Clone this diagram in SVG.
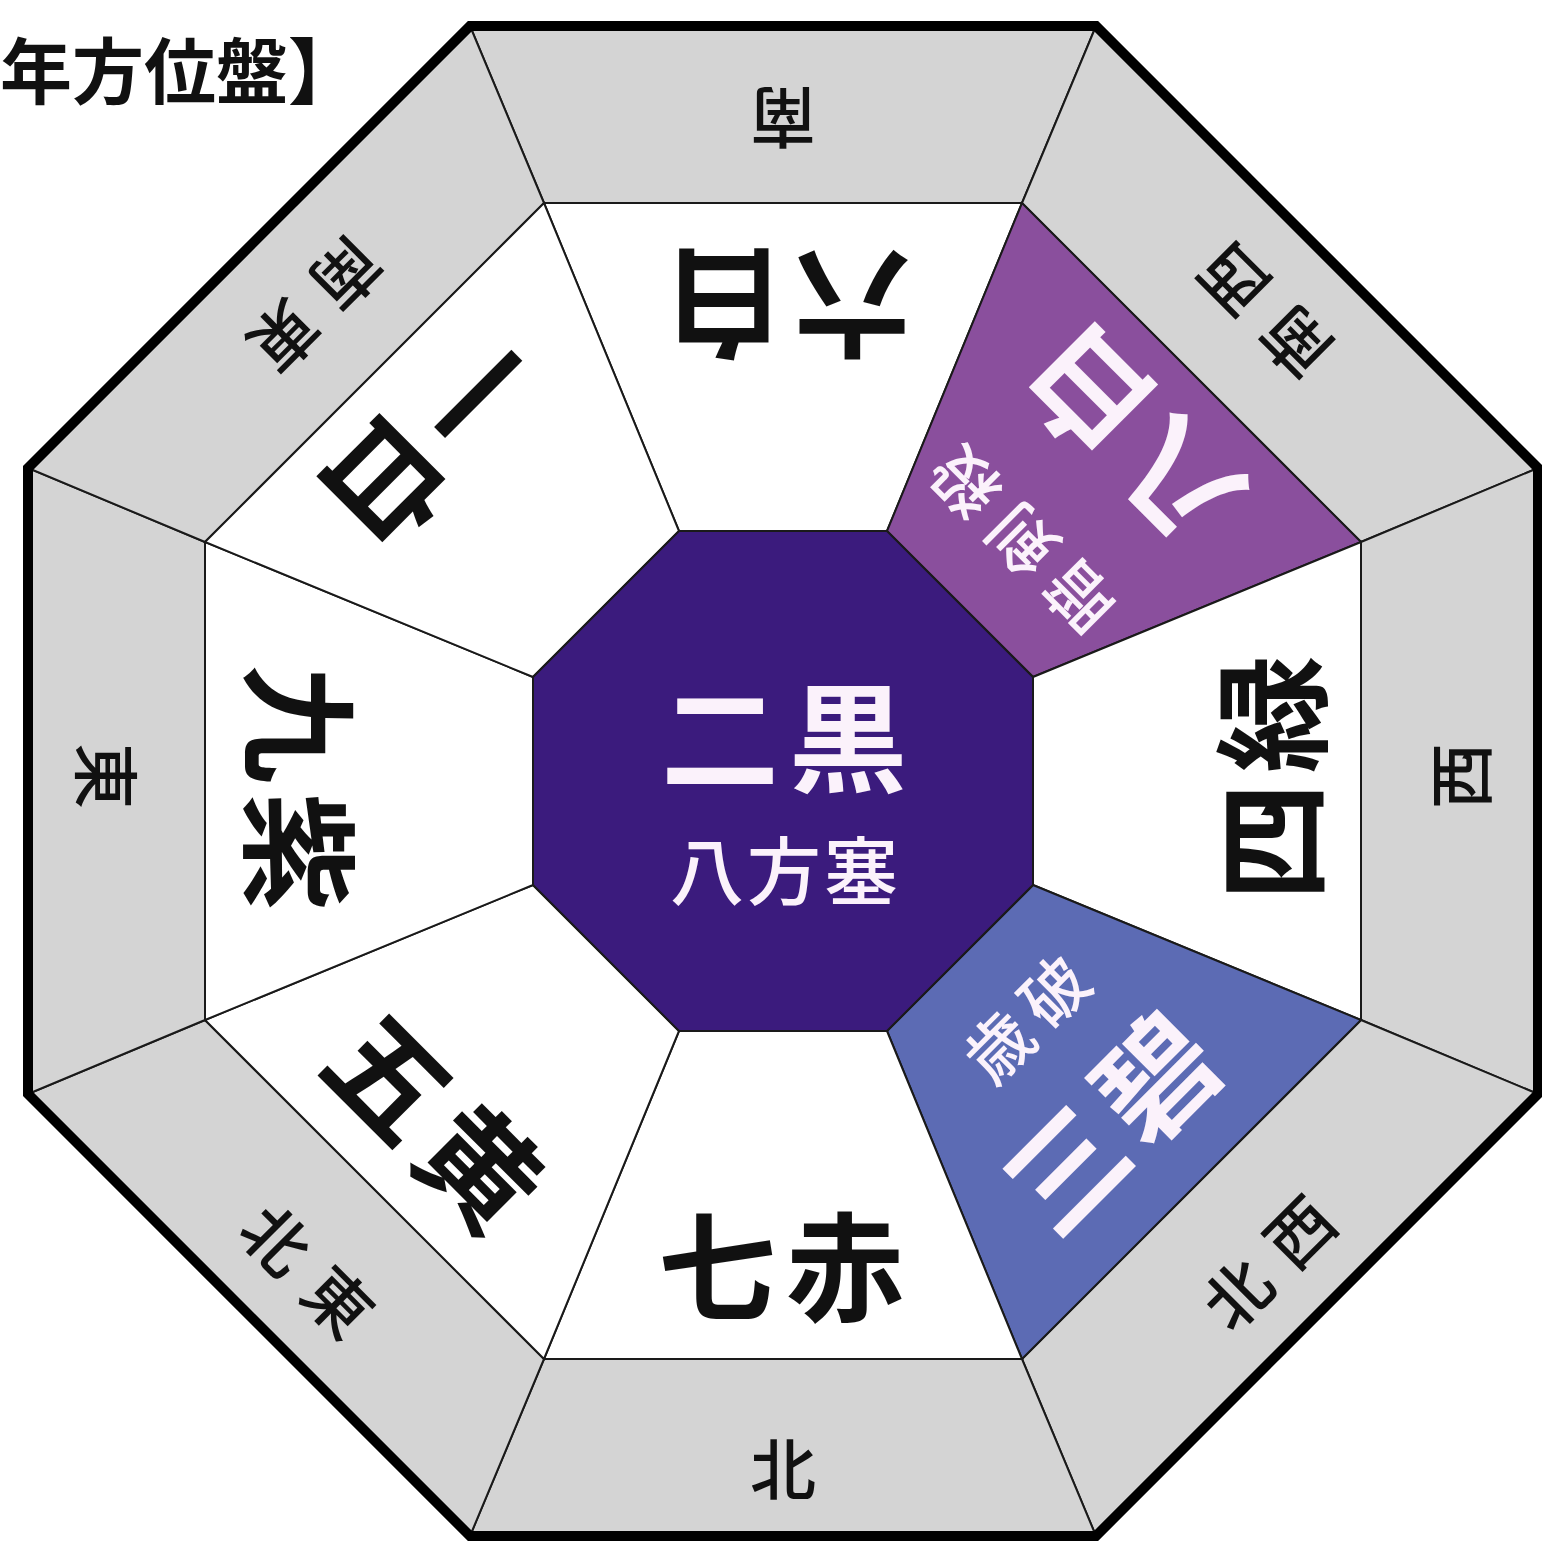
<svg xmlns="http://www.w3.org/2000/svg" width="1542" height="1541" viewBox="0 0 1542 1541">
<style>
.band{fill:#d4d4d4;stroke:#1a1a1a;stroke-width:2;stroke-linejoin:miter}
.cell{fill:#ffffff;stroke:#1a1a1a;stroke-width:2}
.purple{fill:#8a4f9d}
.blue{fill:#5c6bb4}
.dir{font-family:"Noto Sans CJK JP","Noto Sans CJK SC",sans-serif;font-size:66px;font-weight:500;fill:#111;text-anchor:middle;dominant-baseline:central}
.star{font-family:"Noto Sans CJK JP","Noto Sans CJK SC",sans-serif;font-size:118px;font-weight:700;fill:#111;text-anchor:middle;dominant-baseline:central}
.w{fill:#fbf2fb}
.tag{font-family:"Noto Sans CJK JP","Noto Sans CJK SC",sans-serif;font-size:66px;font-weight:500;fill:#fbf2fb;text-anchor:middle;dominant-baseline:central}
.title{font-family:"Noto Sans CJK JP","Noto Sans CJK SC",sans-serif;font-size:72px;font-weight:700;fill:#111;dominant-baseline:central}
</style>
<rect width="1542" height="1541" fill="#ffffff"/>
<text class="title" x="0" y="66">年方位盤】</text>

<g id="sector-south">
<polygon class="band" points="544,203 1022,203 1096,26 470,26"/>
<polygon class="cell" points="679,531 887,531 1022,203 544,203"/>
<text class="dir" transform="translate(783,122) rotate(180)" x="0" y="0">南</text>
<text class="star" transform="translate(788,310) rotate(180)" x="-64 64" y="0">六白</text>
</g>

<g id="sector-southwest">
<polygon class="band" points="1022,203 1361,542 1538,468 1096,26"/>
<polygon class="cell purple" points="887,531 1033,677 1361,542 1022,203"/>
<text class="dir" transform="translate(1262,314) rotate(-135)" x="-44 44" y="0">南西</text>
<text class="star w" transform="translate(1128,442) rotate(-135)" x="-64 64" y="0">八白</text>
<text class="tag" transform="translate(1020,543) rotate(-135)" x="-81 0 81" y="0">暗剣殺</text>
</g>

<g id="sector-west">
<polygon class="band" points="1361,542 1361,1020 1538,1094 1538,468"/>
<polygon class="cell" points="1033,677 1033,885 1361,1020 1361,542"/>
<text class="dir" transform="translate(1457,776) rotate(-90)" x="0" y="0">西</text>
<text class="star" transform="translate(1265,778) rotate(-90)" x="-64 64" y="0">四緑</text>
</g>

<g id="sector-northwest">
<polygon class="band" points="1361,1020 1022,1359 1096,1536 1538,1094"/>
<polygon class="cell blue" points="1033,885 887,1031 1022,1359 1361,1020"/>
<text class="dir" transform="translate(1266,1260) rotate(-45)" x="-44 44" y="0">北西</text>
<text class="star w" transform="translate(1106,1118) rotate(-45)" x="-64 64" y="0">三碧</text>
<text class="tag" transform="translate(1024,1016) rotate(-45)" x="-39 39" y="0">歳破</text>
</g>

<g id="sector-north">
<polygon class="band" points="1022,1359 544,1359 470,1536 1096,1536"/>
<polygon class="cell" points="887,1031 679,1031 544,1359 1022,1359"/>
<text class="dir" x="783" y="1465">北</text>
<text class="star" x="717 845" y="1260">七赤</text>
</g>

<g id="sector-northeast">
<polygon class="band" points="544,1359 205,1020 28,1094 470,1536"/>
<polygon class="cell" points="679,1031 533,885 205,1020 544,1359"/>
<text class="dir" transform="translate(310,1268) rotate(45)" x="-44 44" y="0">北東</text>
<text class="star" transform="translate(440,1118) rotate(45)" x="-64 64" y="0">五黄</text>
</g>

<g id="sector-east">
<polygon class="band" points="205,1020 205,542 28,468 28,1094"/>
<polygon class="cell" points="533,885 533,677 205,542 205,1020"/>
<text class="dir" transform="translate(110,776) rotate(90)" x="0" y="0">東</text>
<text class="star" transform="translate(305,788) rotate(90)" x="-64 64" y="0">九紫</text>
</g>

<g id="sector-southeast">
<polygon class="band" points="205,542 544,203 470,26 28,468"/>
<polygon class="cell" points="533,677 679,531 544,203 205,542"/>
<text class="dir" transform="translate(318,308) rotate(135)" x="-44 44" y="0">南東</text>
<text class="star" transform="translate(437,443) rotate(135)" x="-64 64" y="0">一白</text>
</g>

<g id="center">
<polygon fill="#3b1b7d" stroke="#1a1a1a" stroke-width="2" points="679,531 887,531 1033,677 1033,885 887,1031 679,1031 533,885 533,677"/>
<text class="star w" x="720 848" y="731">二黒</text>
<text class="tag" style="font-size:74px" x="707 784 861" y="866">八方塞</text>
</g>

<polygon id="outer-border" fill="none" stroke="#000" stroke-width="10" stroke-linejoin="miter" points="470,26 1096,26 1538,468 1538,1094 1096,1536 470,1536 28,1094 28,468"/>
</svg>
